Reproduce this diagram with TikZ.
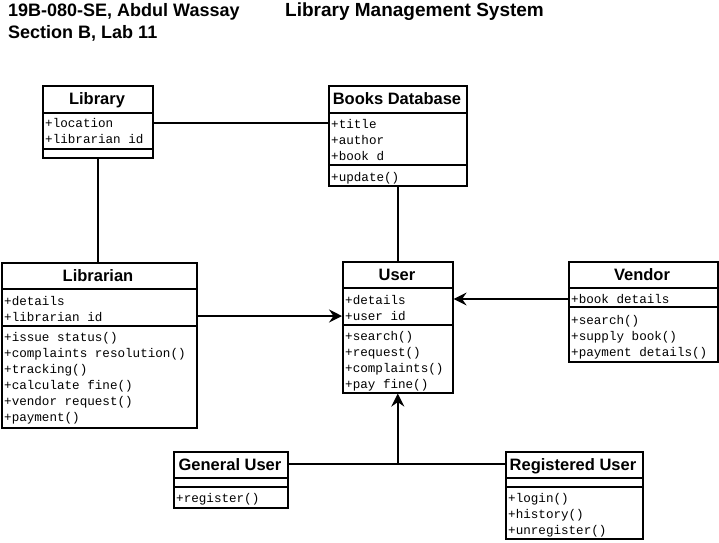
\documentclass[tikz,border=0pt]{standalone}
\usepackage{fontspec}
\setmainfont{Liberation Sans}
\newfontfamily\monof{Liberation Mono}
\usetikzlibrary{arrows.meta}
\tikzset{
  box/.style={draw, line width=1.6pt, inner sep=0pt, anchor=north west, fill=white},
  ttl/.style={font=\bfseries\fontsize{16.5}{18}\selectfont, inner sep=0pt, anchor=base},
  hdr/.style={font=\bfseries\fontsize{18}{20}\selectfont, inner sep=0pt, anchor=west},
  mem/.style={font=\monof\fontsize{12.6}{14}\selectfont, inner sep=0pt, anchor=base west},
  sep/.style={line width=1.6pt},
  conn/.style={line width=1.6pt},
  arr/.style={conn, -{Stealth[length=13pt,width=13pt,inset=4.5pt]}}
}
\newcommand\umlcls[5]{\node[box, minimum width={#4-#2}, minimum height={#5-#3}] (#1) at (#2,#3) {};}
\newcommand\mems[4]{\foreach \t [count=\i] in {#4} {\node[mem] (#1\i) at (#2,{#3+4+16*(\i-1)}) {\t};}}
\begin{document}
\begin{tikzpicture}[x=1pt,y=-1pt]
\useasboundingbox[fill=white] (0,0) rectangle (719,542);
% header
\node[hdr] (h1) at (8,12) {19B-080-SE, Abdul Wassay};
\node[hdr, font=\bfseries\fontsize{19}{21}\selectfont] (h2) at (285,12) {Library Management System};
\node[hdr] (h3) at (8,33) {Section B, Lab 11};
% Library -- Books Database association (drawn under the boxes)
\draw[conn] (152,123) -- (328,123);
% Library
\umlcls{lib}{42}{85}{152}{157}
\draw[sep] (42,113) -- (152,113); \draw[sep] (42,149) -- (152,149);
\node[ttl] (libT) at (97,104) {Library};
\mems{libA}{45}{123}{+location,+librarian id}
% Books Database
\umlcls{bd}{328}{85}{466}{185}
\draw[sep] (328,113) -- (466,113); \draw[sep] (328,165) -- (466,165);
\node[ttl] (bdT) at (397,104) {Books Database};
\mems{bdA}{331}{124}{+title,+author,+book d}
\mems{bdM}{331}{177}{+update()}
% Librarian
\umlcls{lbn}{1}{262}{196}{427}
\draw[sep] (1,289) -- (196,289); \draw[sep] (1,326) -- (196,326);
\node[ttl] (lbnT) at (98,281) {Librarian};
\mems{lbnA}{4}{301}{+details,+librarian id}
\mems{lbnM}{4}{337}{+issue status(),+complaints resolution(),+tracking(),+calculate fine(),+vendor request(),+payment()}
% User
\umlcls{user}{342}{261}{452}{392}
\draw[sep] (342,288) -- (452,288); \draw[sep] (342,325) -- (452,325);
\node[ttl] (userT) at (397,280) {User};
\mems{userA}{345}{300}{+details,+user id}
\mems{userM}{345}{336}{+search(),+request(),+complaints(),+pay fine()}
% Vendor
\umlcls{ven}{568}{261}{717}{361}
\draw[sep] (568,288) -- (717,288); \draw[sep] (568,307) -- (717,307);
\node[ttl] (venT) at (642,280) {Vendor};
\mems{venA}{571}{299}{+book details}
\mems{venM}{571}{320}{+search(),+supply book(),+payment details()}
% General User
\umlcls{gen}{173}{451}{287}{507}
\draw[sep] (173,478) -- (287,478); \draw[sep] (173,487) -- (287,487);
\node[ttl] (genT) at (230,470) {General User};
\mems{genM}{176}{498}{+register()}
% Registered User
\umlcls{reg}{505}{451}{642}{538}
\draw[sep] (505,478) -- (642,478); \draw[sep] (505,487) -- (642,487);
\node[ttl] (regT) at (573,470) {Registered User};
\mems{regM}{508}{498}{+login(),+history(),+unregister()}
% connectors
\draw[conn] (lib.south) -- (lib.south |- lbn.north);
\draw[conn] (bd.south) -- (user.north);
\draw[arr] (lbn.east |- 0,316) -- (user.west |- 0,316);
\draw[arr] (ven.west |- 0,299) -- (user.east |- 0,299);
\coordinate (j) at (user.south |- 0,464);
\draw[conn] (gen.east |- j) -- (reg.west |- j);
\draw[arr] (j) -- (user.south);
\end{tikzpicture}
\end{document}
